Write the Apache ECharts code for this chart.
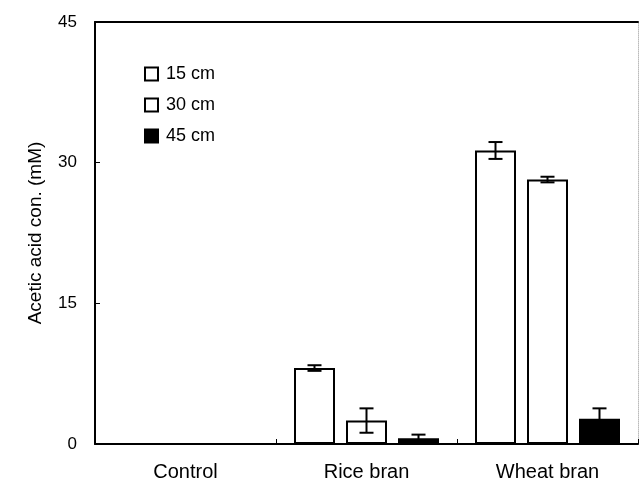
<!DOCTYPE html>
<html>
<head>
<meta charset="utf-8">
<script src="https://cdn.jsdelivr.net/npm/echarts@6/dist/echarts.min.js"></script>
<style>html,body{margin:0;padding:0;background:#fff}#c{width:639px;height:482px}</style>
</head>
<body>
<div id="c"></div>
<script>
var categories = ['Control', 'Rice bran', 'Wheat bran'];
var seriesNames = ['15 cm', '30 cm', '45 cm'];
var v15 = [0, 8.1, 31.3];
var v30 = [0, 2.5, 28.2];
var v45 = [0, 0.6, 2.7];
var e15 = [0, 0.3, 0.9];
var e30 = [0, 1.3, 0.3];
var e45 = [0, 0.4, 1.1];
var yTicks = [0, 15, 30, 45];

var values = [v15, v30, v45];
var errors = [e15, e30, e45];
var fills = ['#ffffff', '#ffffff', '#000000'];
var BAR_W = 41, GAP = 11;

var chart = echarts.init(document.getElementById('c'), null, {renderer: 'canvas'});
var font = 'Liberation Sans, Arial, sans-serif';
var series = [];
seriesNames.forEach(function (n, i) {
  series.push({
    name: n, type: 'bar', data: values[i], barWidth: BAR_W, barGap: (GAP / BAR_W * 100) + '%',
    itemStyle: {color: fills[i], borderColor: '#000', borderWidth: 2},
    emphasis: {disabled: true}, z: 2
  });
});
seriesNames.forEach(function (n, i) {
  var d = categories.map(function (c, k) { return [k, values[i][k], errors[i][k]]; });
  series.push({
    type: 'custom', name: 'err' + i, z: 5, silent: true,
    data: d,
    renderItem: function (params, api) {
      var k = api.value(0), v = api.value(1), e = api.value(2);
      if (!e) return null;
      var top = api.coord([k, v + e]);
      var bot = api.coord([k, v - e]);
      var x = top[0] + (i - 1) * (BAR_W + GAP);
      var hw = 7;
      var st = {stroke: '#000', lineWidth: 2, fill: null};
      return {type: 'group', children: [
        {type: 'line', shape: {x1: x, y1: top[1], x2: x, y2: bot[1]}, style: st},
        {type: 'line', shape: {x1: x - hw, y1: top[1], x2: x + hw, y2: top[1]}, style: st},
        {type: 'line', shape: {x1: x - hw, y1: bot[1], x2: x + hw, y2: bot[1]}, style: st}
      ]};
    }
  });
});

chart.setOption({
  animation: false,
  backgroundColor: '#fff',
  grid: {left: 95, right: 1, top: 22, bottom: 37, containLabel: false},
  legend: {
    data: seriesNames, orient: 'vertical', left: 139, top: 60, itemGap: 13,
    icon: 'rect', itemWidth: 13, itemHeight: 13,
    textStyle: {fontFamily: font, fontSize: 18, color: '#000', padding: [0, 0, 0, 3]},
    itemStyle: {borderColor: '#000', borderWidth: 2}
  },
  xAxis: [{
    type: 'category', data: categories, position: 'bottom',
    axisLine: {show: true, onZero: false, lineStyle: {color: '#000', width: 2}},
    axisTick: {show: true, inside: true, length: 5, interval: 0, lineStyle: {color: '#000'}},
    axisLabel: {fontFamily: font, fontSize: 20, color: '#000', margin: 18},
    splitLine: {show: false}
  }, {
    type: 'category', data: categories, position: 'top',
    axisLine: {show: true, onZero: false, lineStyle: {color: '#000', width: 2}},
    axisTick: {show: false}, axisLabel: {show: false}
  }],
  yAxis: [{
    type: 'value', min: 0, max: 45, interval: 15,
    name: 'Acetic acid con. (mM)', nameLocation: 'middle', nameGap: 50, nameRotate: 90,
    nameTextStyle: {fontFamily: font, fontSize: 19, color: '#000'},
    axisLine: {show: true, lineStyle: {color: '#000', width: 2}},
    axisTick: {show: true, inside: true, length: 5, lineStyle: {color: '#000'}},
    axisLabel: {fontFamily: font, fontSize: 17, color: '#000', margin: 18,
      formatter: function (v) { return yTicks.indexOf(v) >= 0 ? String(v) : ''; }},
    splitLine: {show: false}
  }, {
    type: 'value', min: 0, max: 45, interval: 15, position: 'right',
    axisLine: {show: true, lineStyle: {color: '#bbb', width: 1, type: 'dotted'}},
    axisTick: {show: false}, axisLabel: {show: false}, splitLine: {show: false}
  }],
  series: series
});
</script>
</body>
</html>
